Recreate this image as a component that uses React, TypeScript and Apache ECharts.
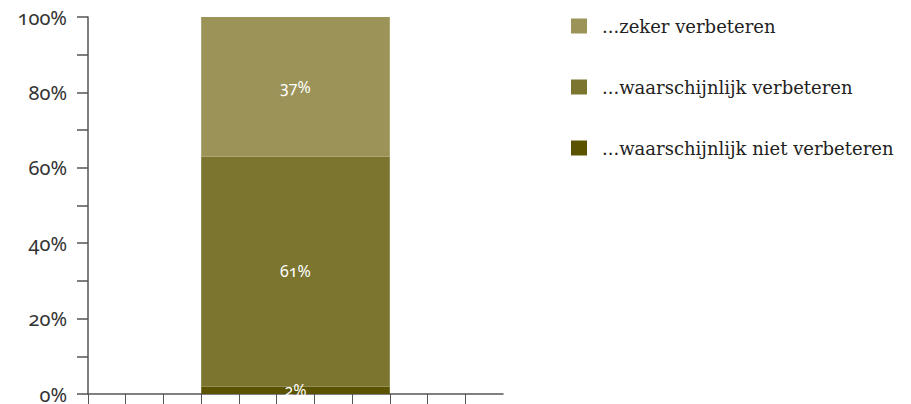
import React, { useEffect, useRef } from "react";
import * as echarts from "echarts";

const categories = ["", "", "", "", "", "", "", "", "", "", ""];
const barCategory = 5;
const seriesNames = [
  "...waarschijnlijk niet verbeteren",
  "...waarschijnlijk verbeteren",
  "...zeker verbeteren",
];
const seriesValues = [2, 61, 37];
const seriesLabels = ["2%", "61%", "37%"];
const seriesColors = ["#5b5300", "#7b7530", "#9b9358"];
const legendOrder = [
  "...zeker verbeteren",
  "...waarschijnlijk verbeteren",
  "...waarschijnlijk niet verbeteren",
];
const xTickValues = [0, 1, 2, 3, 4, 5, 6, 7, 8, 9, 10];

export default function App() {
  const ref = useRef<HTMLDivElement>(null);
  useEffect(() => {
    document.body.style.margin = "0";
    const chart = echarts.init(ref.current!, null, { renderer: "svg" });
    const axisColor = "#555555";
    chart.setOption({
      animation: false,
      grid: { left: 88, right: 408, top: 17, bottom: 9, containLabel: false },
      legend: {
        orient: "vertical",
        left: 566,
        top: 12,
        itemWidth: 16,
        itemHeight: 15,
        itemGap: 43,
        icon: "rect",
        data: legendOrder,
        textStyle: {
          fontFamily: "DejaVu Serif",
          fontSize: 18,
          lineHeight: 18,
          color: "#222222",
          padding: [0, 0, 0, 10],
        },
      },
      xAxis: [
        {
          type: "category",
          data: categories,
          position: "bottom",
          axisLine: { show: true, onZero: false, lineStyle: { color: axisColor, width: 1.5 } },
          axisTick: { show: false },
          axisLabel: { show: false },
          splitLine: { show: false },
        },
        {
          type: "value",
          min: 0,
          max: 11,
          interval: 1,
          position: "bottom",
          axisLine: { show: false, onZero: false },
          axisTick: {
            show: true,
            length: 10,
            customValues: xTickValues,
            lineStyle: { color: axisColor, width: 1 },
          },
          axisLabel: { show: false },
          splitLine: { show: false },
        },
      ],
      yAxis: {
        type: "value",
        min: 0,
        max: 100,
        interval: 10,
        axisLine: { show: true, lineStyle: { color: axisColor, width: 1.5 } },
        axisTick: { show: true, length: 11, lineStyle: { color: axisColor, width: 1.5 } },
        splitLine: { show: false },
        axisLabel: {
          margin: 21,
          fontFamily: "Noto Sans",
          fontSize: 20,
          lineHeight: 16,
          color: "#333333",
          verticalAlign: "middle",
          formatter: (v: number) => (v % 20 === 0 ? v + "%" : ""),
        },
      },
      series: seriesNames.map((name, s) => ({
        name,
        type: "bar",
        stack: "total",
        xAxisIndex: 0,
        barWidth: "500%",
        itemStyle: { color: seriesColors[s] },
        label: {
          show: true,
          position: "inside",
          color: "#ffffff",
          fontFamily: "Noto Sans",
          fontSize: 16,
          formatter: () => seriesLabels[s],
        },
        data: categories.map((_, i) => (i === barCategory ? seriesValues[s] : null)),
      })),
    });
    return () => chart.dispose();
  }, []);
  return (
    <>
      <style>{"#root svg text{font-variant-numeric: oldstyle-nums !important; font-feature-settings: 'onum' 1 !important;}"}</style>
      <div ref={ref} style={{ width: 911, height: 404 }} />
    </>
  );
}
